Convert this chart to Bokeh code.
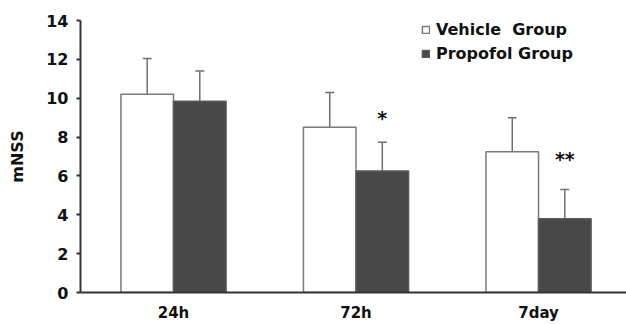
from bokeh.plotting import figure
from bokeh.models import (ColumnDataSource, Range1d, FixedTicker, Whisker, TeeHead,
                          Legend, LegendItem)
from bokeh.embed import file_html
from bokeh.resources import INLINE
from bokeh.core.properties import value

# ---- data ----
categories = ["24h", "72h", "7day"]
vehicle_mean = [10.2, 8.5, 7.25]
vehicle_err_top = [12.05, 10.3, 9.0]
propofol_mean = [9.85, 6.25, 3.8]
propofol_err_top = [11.4, 7.73, 5.3]
sig_labels = ["", "*", "**"]
sig_y = [None, 9.0, 6.85]
y_ticks = [0, 2, 4, 6, 8, 10, 12, 14]

xpos = list(range(len(categories)))
bar_w = 0.288
off = bar_w / 2

p = figure(width=626, height=324, output_backend="svg", toolbar_location=None,
           x_range=Range1d(-0.5096, 2.482), y_range=Range1d(0, 14),
           min_border_left=80, min_border_right=0, min_border_top=20,
           min_border_bottom=32)
p.outline_line_color = None
p.xgrid.visible = False
p.ygrid.visible = False
p.background_fill_color = "white"
p.border_fill_color = "white"

vsrc = ColumnDataSource(dict(x=[x - off for x in xpos], top=vehicle_mean,
                             up=vehicle_err_top))
psrc = ColumnDataSource(dict(x=[x + off for x in xpos], top=propofol_mean,
                             up=propofol_err_top))

for src in (vsrc, psrc):
    w = Whisker(source=src, base="x", lower="top", upper="up", dimension="height",
                line_color="#707070", line_width=1.5, lower_head=None,
                upper_head=TeeHead(size=9, line_color="#707070", line_width=1.5),
                level="underlay")
    p.add_layout(w)

rv = p.vbar(x="x", top="top", width=bar_w, source=vsrc, fill_color="white",
            line_color="#7a7a7a", line_width=1.5)
rp = p.vbar(x="x", top="top", width=bar_w, source=psrc, fill_color="#484848",
            line_color="#5a5a5a", line_width=1.5)

sx = [x + off for x, s in zip(xpos, sig_labels) if s]
sy = [y for y, s in zip(sig_y, sig_labels) if s]
st = [s for s in sig_labels if s]
p.text(x=sx, y=sy, text=st, text_align="center", text_baseline="middle",
       text_font=value("DejaVu Sans"), text_font_style="bold",
       text_font_size="19px", text_color="#111111")

# axes
p.yaxis.ticker = FixedTicker(ticks=y_ticks)
p.yaxis.minor_tick_line_color = None
p.yaxis.major_tick_in = 0
p.yaxis.major_tick_out = 4
p.yaxis.major_tick_line_width = 2
p.yaxis.major_tick_line_color = "#333333"
p.yaxis.axis_line_width = 2
p.yaxis.axis_line_color = "#333333"
p.yaxis.major_label_standoff = 8
p.yaxis.major_label_text_font = "DejaVu Sans"
p.yaxis.major_label_text_font_style = "bold"
p.yaxis.major_label_text_font_size = "16px"
p.yaxis.major_label_text_color = "#111111"
p.yaxis.axis_label = "mNSS"
p.yaxis.axis_label_text_font = "DejaVu Sans"
p.yaxis.axis_label_text_font_style = "bold"
p.yaxis.axis_label_text_font_size = "16px"
p.yaxis.axis_label_text_color = "#111111"
p.yaxis.axis_label_standoff = 16

p.xaxis.ticker = FixedTicker(ticks=xpos)
p.xaxis.major_label_overrides = {i: c for i, c in zip(xpos, categories)}
p.xaxis.minor_tick_line_color = None
p.xaxis.major_tick_line_color = None
p.xaxis.axis_line_width = 2
p.xaxis.axis_line_color = "#333333"
p.xaxis.major_label_standoff = 5
p.xaxis.major_label_text_font = "DejaVu Sans"
p.xaxis.major_label_text_font_style = "bold"
p.xaxis.major_label_text_font_size = "15px"
p.xaxis.major_label_text_color = "#111111"

legend = Legend(items=[LegendItem(label="Vehicle  Group", renderers=[rv]),
                       LegendItem(label="Propofol Group", renderers=[rp])],
                location=(341, 229), orientation="vertical",
                glyph_width=9, glyph_height=9, label_standoff=6, spacing=4,
                padding=0, margin=0, border_line_color=None,
                background_fill_alpha=0, label_height=20,
                label_text_font="DejaVu Sans", label_text_font_style="bold",
                label_text_font_size="16px", label_text_color="#111111")
p.add_layout(legend)

open("out.html", "w").write(file_html(p, INLINE))
